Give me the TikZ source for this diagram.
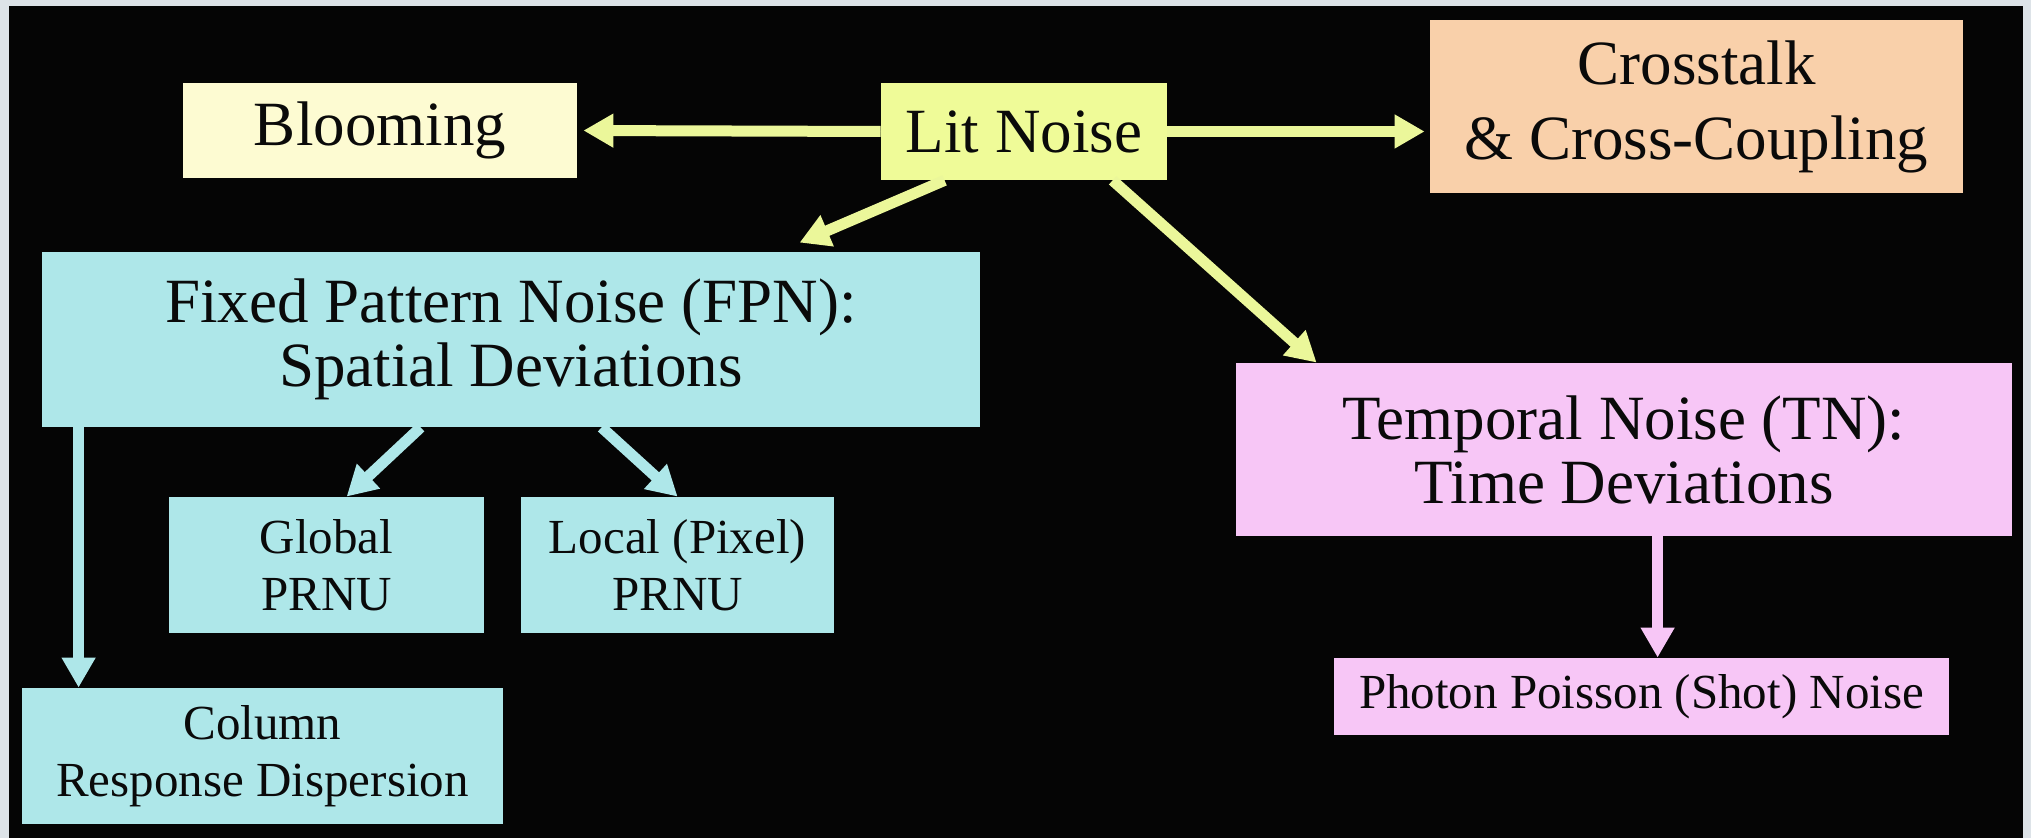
\documentclass[tikz,border=0pt]{standalone}
\usepackage{fontspec}
\setmainfont{Liberation Serif}
\usetikzlibrary{arrows.meta,calc}
\definecolor{cframe}{HTML}{DDE3E8}
\definecolor{cbg}{HTML}{050505}
\definecolor{cbloom}{HTML}{FDFBD2}
\definecolor{clit}{HTML}{EFFB98}
\definecolor{cyel}{HTML}{EBF79A}
\definecolor{ccross}{HTML}{F9D0AA}
\definecolor{cblue}{HTML}{AEE7E9}
\definecolor{cpink}{HTML}{F7C6F6}
\definecolor{ctext}{HTML}{0A0A0A}
\newcommand\bigfont{\fontsize{31.5}{32}\selectfont}
\newcommand\crossfont{\fontsize{31.5}{37.5}\selectfont}
\newcommand\smallfont{\fontsize{24.5}{28.5}\selectfont}
\tikzset{
  box/.style={inner sep=0pt, align=center, text=ctext, font=\bigfont},
  smallbox/.style={box, font=\smallfont},
  arr/.style={line width=5.5pt, -{Triangle[length=15pt,width=16pt]}},
  arrY/.style={arr, draw=cyel, fill=cyel},
  arrB/.style={arr, draw=cblue, fill=cblue},
  arrP/.style={arr, draw=cpink, fill=cpink},
}
\begin{document}
\begin{tikzpicture}[x=0.5pt,y=-0.5pt]
\useasboundingbox (0,0) rectangle (2031,838);
\fill[cframe] (0,0) rectangle (2031,838);
\fill[cbg] (9,6) rectangle (2023,838);

\node[box, fill=cbloom, minimum width=197pt, minimum height=47.5pt] (bloom) at (380,130.5) {Blooming};
\node[box, fill=clit, minimum width=143pt, minimum height=48.5pt] (lit) at (1024,131.5) {Lit Noise};
\node[box, font=\crossfont, fill=ccross, minimum width=266.5pt, minimum height=86.5pt] (cross) at (1696.5,106.5) {Crosstalk\\\& Cross-Coupling};
\node[box, fill=cblue, minimum width=469pt, minimum height=87.5pt] (fpn) at (511,339.5) {Fixed Pattern Noise (FPN):\\Spatial Deviations};
\node[smallbox, fill=cblue, minimum width=157.5pt, minimum height=68pt] (glob) at (326.5,565) {Global\\PRNU};
\node[smallbox, fill=cblue, minimum width=156.5pt, minimum height=68pt] (loc) at (677.5,565) {Local (Pixel)\\PRNU};
\node[smallbox, fill=cblue, minimum width=240.5pt, minimum height=68pt] (col) at (262.5,756) {Column\\Response Dispersion};
\node[box, fill=cpink, minimum width=388pt, minimum height=86.5pt] (tn) at (1624,449.5) {Temporal Noise (TN):\\Time Deviations};
\node[smallbox, fill=cpink, minimum width=307.5pt, minimum height=38.5pt] (pho) at (1641.5,696.5) {Photon Poisson (Shot) Noise};

% arrows from Lit Noise
\draw[arrY, shorten >=3pt] (lit.west) -- (bloom.east);
\draw[arrY, shorten >=2.5pt] (lit.east) -- (lit.east -| cross.west);
\draw[arrY] ([xshift=32pt]lit.south west) -- ([xshift=379pt,yshift=4.5pt]fpn.north west);
\draw[arrY] ([xshift=116pt]lit.south west) -- ([xshift=40.5pt]tn.north west);
% arrows from FPN
\draw[arrB] ([xshift=189.5pt]fpn.south west) -- ([xshift=89pt]glob.north west);
\draw[arrB] ([xshift=280pt]fpn.south west) -- ([xshift=78.5pt]loc.north west);
\draw[arrB] ([xshift=18.5pt]fpn.south west) -- ([xshift=28.5pt]col.north west);
% arrow from TN
\draw[arrP] ([xshift=211pt]tn.south west) -- ([xshift=211pt]tn.south west |- pho.north);
\end{tikzpicture}
\end{document}
